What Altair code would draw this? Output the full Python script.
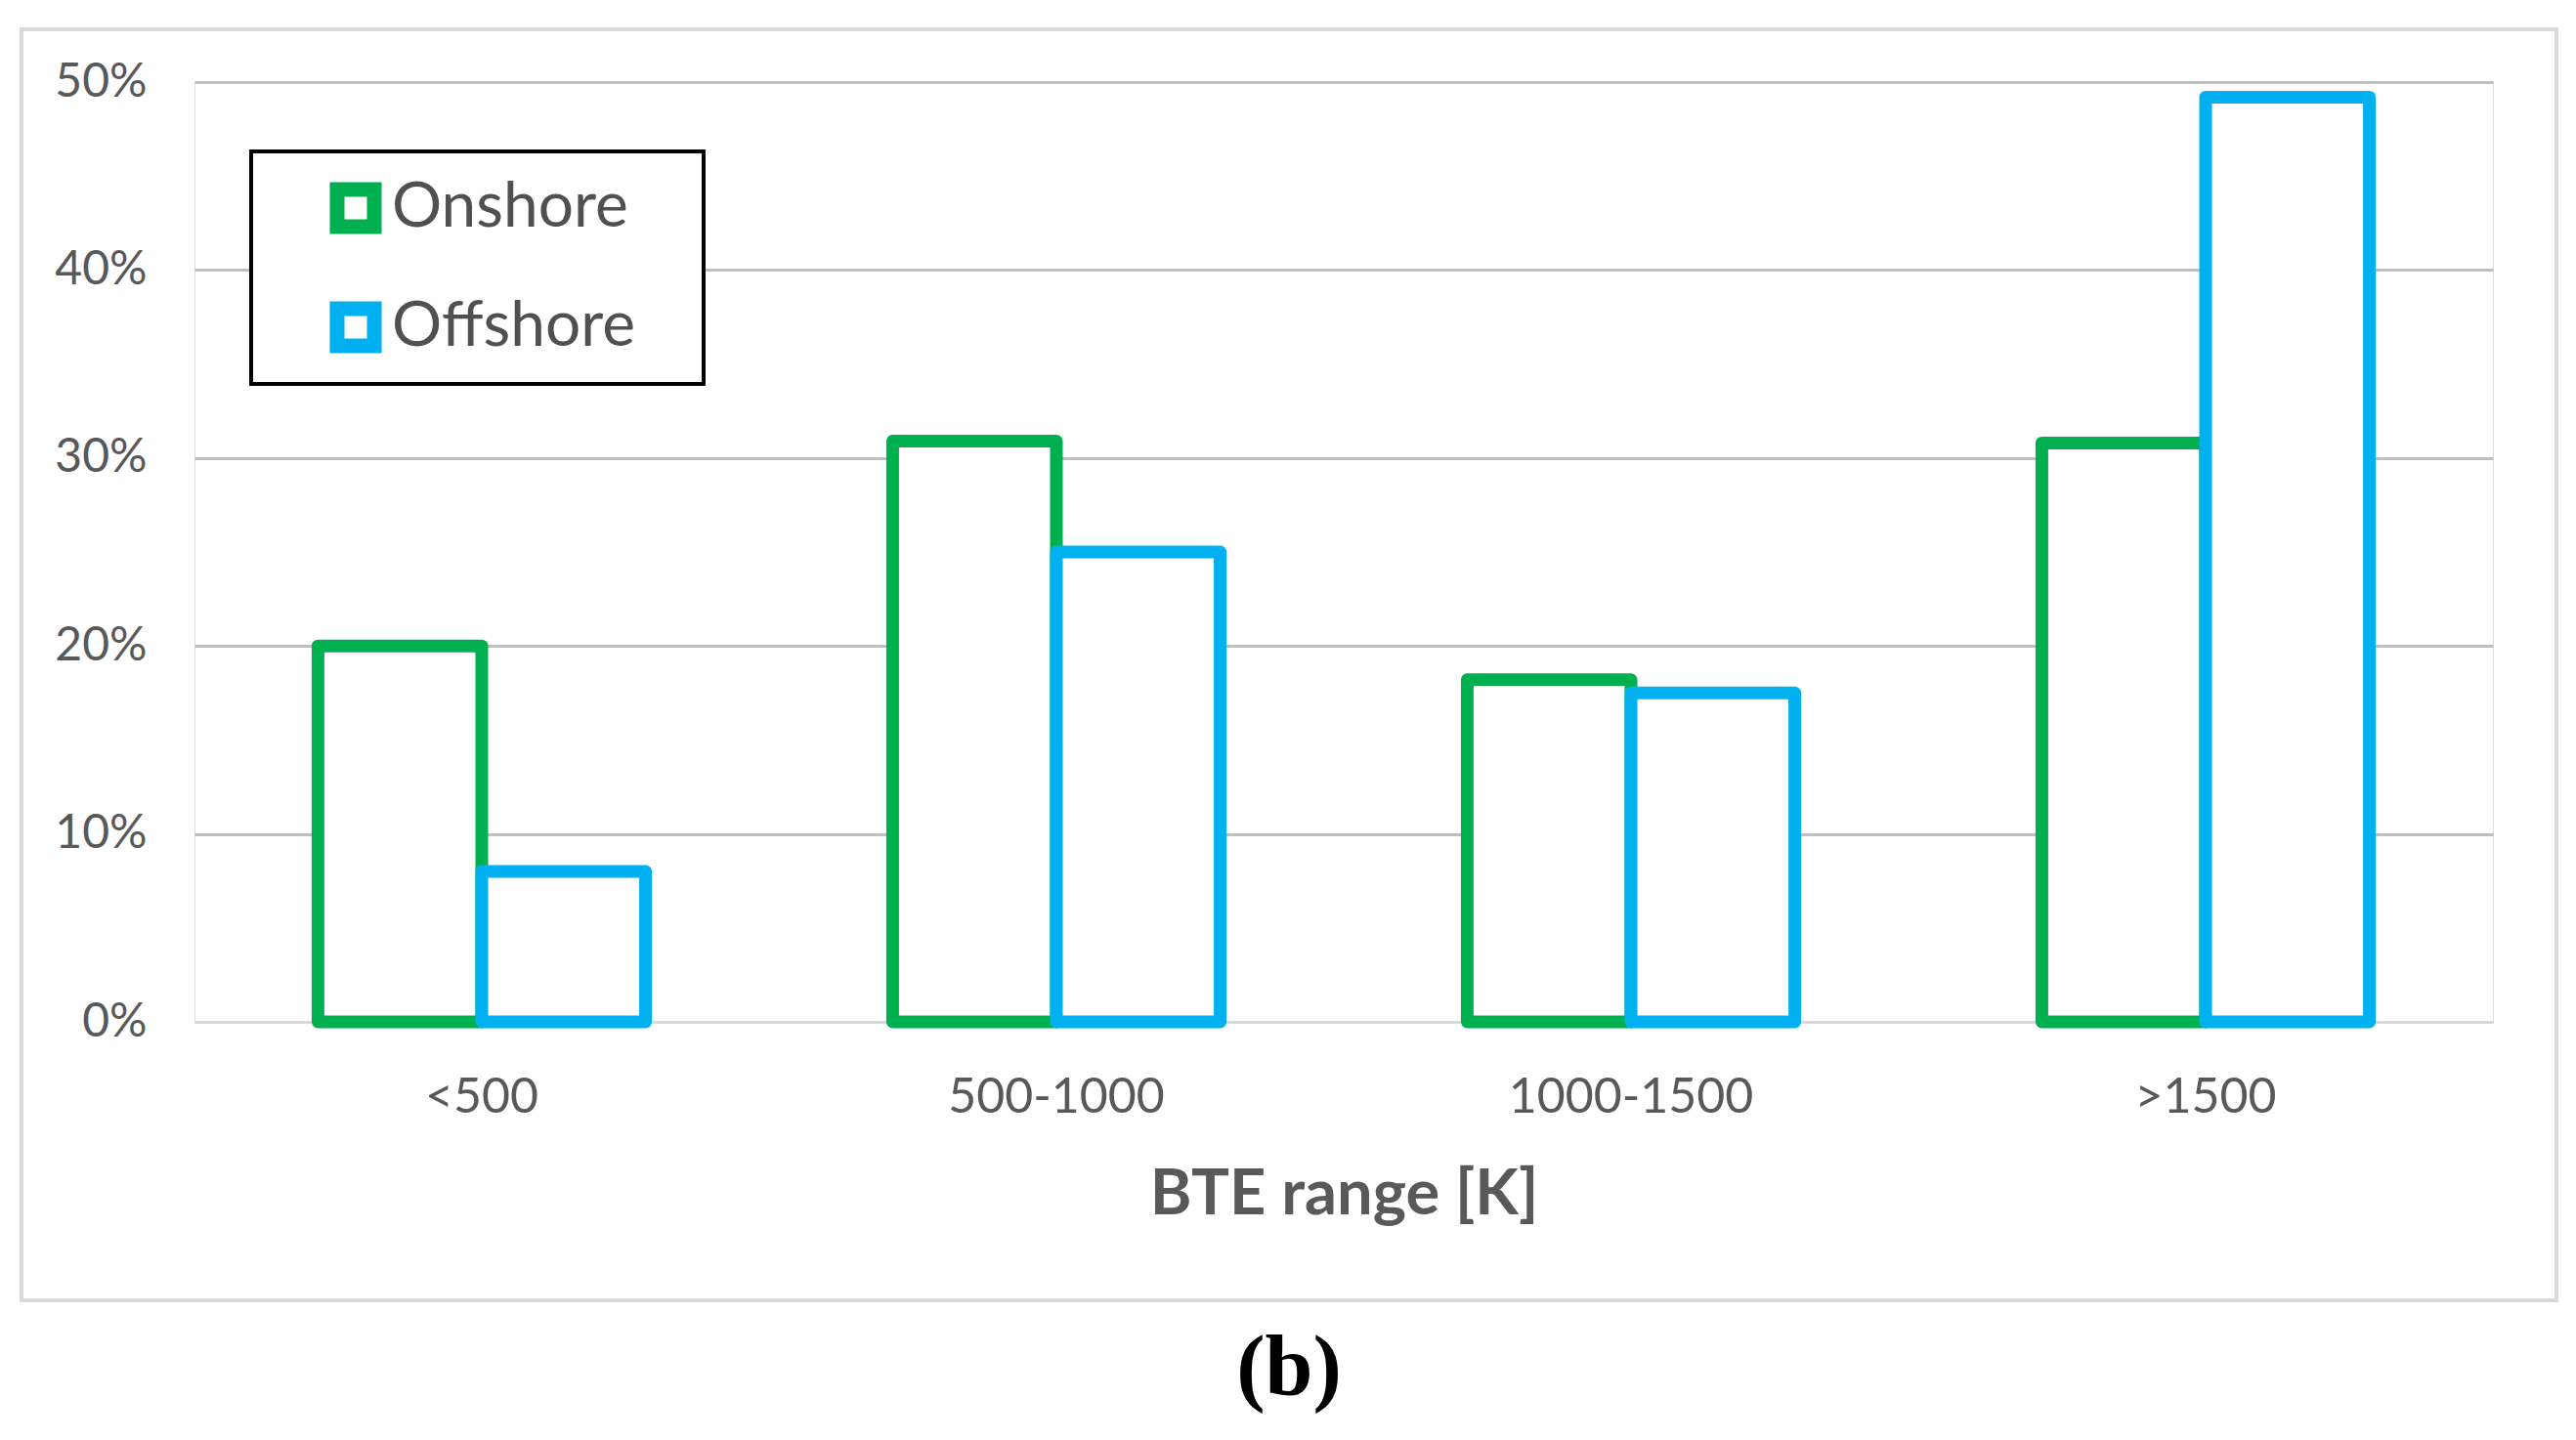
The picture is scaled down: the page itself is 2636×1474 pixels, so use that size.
import altair as alt
import pandas as pd

# ---- data ----
categories = ["<500", "500-1000", "1000-1500", ">1500"]
series = ["Onshore", "Offshore"]
onshore = [0.200, 0.309, 0.182, 0.308]
offshore = [0.080, 0.250, 0.175, 0.492]
series_colors = ["#00B050", "#00B0F0"]
y_ticks = [0.0, 0.1, 0.2, 0.3, 0.4, 0.5]
x_title = "BTE range [K]"
caption = "(b)"

rows = []
for i, c in enumerate(categories):
    rows.append({"range": c, "series": series[0], "share": onshore[i]})
    rows.append({"range": c, "series": series[1], "share": offshore[i]})
df = pd.DataFrame(rows)

PLOT_W = 2352
PLOT_H = 962
FONT = "Lato"
TEXT = "#595959"

bars = alt.Chart(df).mark_bar(
    fill="white", strokeWidth=13, strokeJoin="round"
).encode(
    x=alt.X(
        "range:N",
        sort=categories,
        title=x_title,
        scale=alt.Scale(paddingInner=0.43, paddingOuter=0.215),
        axis=alt.Axis(
            labelAngle=0,
            labelFont=FONT,
            labelFontSize=50,
            labelColor=TEXT,
            labelPadding=52,
            labelLimit=0,
            ticks=False,
            domain=True,
            domainColor="#d9d9d9",
            domainWidth=3,
            grid=False,
            titleFont=FONT,
            titleFontSize=65,
            titleFontWeight="bold",
            titleColor=TEXT,
            titlePadding=43,
        ),
    ),
    xOffset=alt.XOffset(
        "series:N", sort=series,
        scale=alt.Scale(paddingInner=0, paddingOuter=0),
    ),
    y=alt.Y(
        "share:Q",
        title=None,
        scale=alt.Scale(domain=[0, 0.5], nice=False),
        axis=alt.Axis(
            values=y_ticks,
            format=".0%",
            labelFont=FONT,
            labelFontSize=48,
            labelColor=TEXT,
            labelPadding=49,
            ticks=False,
            domain=False,
            grid=True,
            gridColor={"condition": {"test": "datum.value === 0", "value": "#d9d9d9"}, "value": "#bfbfbf"},
            gridWidth=3,
        ),
    ),
    stroke=alt.Stroke(
        "series:N",
        sort=series,
        scale=alt.Scale(domain=series, range=series_colors),
        legend=alt.Legend(
            title=None,
            orient="none",
            legendX=58,
            legendY=71,
            direction="vertical",
            symbolType="square",
            symbolSize=1444,
            symbolStrokeWidth=15,
            symbolFillColor="white",
            symbolOffset=49,
            labelOffset=5,
            labelFont=FONT,
            labelFontSize=64,
            labelColor="#505050",
            labelLimit=0,
            rowPadding=24,
            padding=26,
        ),
    ),
)

# chart-area border (decoration)
frame_df = pd.DataFrame({"k": [0]})
border = alt.Chart(frame_df).mark_rect(
    fill="white", fillOpacity=0, stroke="#d9d9d9", strokeWidth=4
).encode(
    x=alt.value(-177), x2=alt.value(2417), y=alt.value(-54), y2=alt.value(1247)
)

# legend box frame (decoration behind the legend entries)
legend_box = alt.Chart(frame_df).mark_rect(
    fill="white", stroke="black", strokeWidth=4
).encode(
    x=alt.value(58), x2=alt.value(521), y=alt.value(71), y2=alt.value(309)
)

chart = alt.layer(border, legend_box, bars).properties(
    width=PLOT_W,
    height=PLOT_H,
    title=alt.TitleParams(
        caption,
        orient="bottom",
        anchor="middle",
        frame="bounds",
        font="Liberation Serif",
        fontSize=88,
        fontWeight="bold",
        color="black",
        offset=25,
    ),
    autosize=alt.AutoSizeParams(type="none"),
    padding={"left": 191, "top": 76, "right": 70, "bottom": 410},
).configure_view(
    stroke=None
).configure(
    background="white"
)

chart.save("out.html", embed_options={"renderer": "svg", "actions": False})
